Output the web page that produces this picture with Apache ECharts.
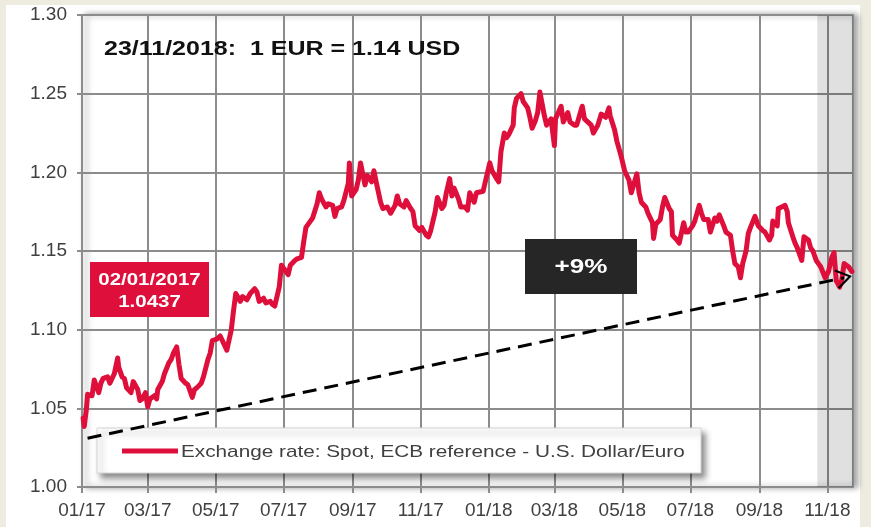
<!DOCTYPE html>
<html><head><meta charset="utf-8">
<script src="https://cdn.jsdelivr.net/npm/echarts@6/dist/echarts.min.js"></script>
<style>
html,body{margin:0;padding:0;background:#eeece1;width:871px;height:527px;overflow:hidden}
#panel{position:absolute;left:6px;top:5px;width:854px;height:522px;background:#fff}
#chart{position:absolute;left:0;top:0;width:871px;height:527px}
</style></head><body><div id="panel"></div><div id="chart"></div>
<script>
// ---- data ----
const dates = [
'2017-01-02','2017-01-03','2017-01-05','2017-01-06','2017-01-10','2017-01-12','2017-01-16','2017-01-18','2017-01-20','2017-01-24','2017-01-26','2017-01-30',
'2017-02-02','2017-02-03','2017-02-06','2017-02-08','2017-02-10','2017-02-14','2017-02-16','2017-02-20','2017-02-22','2017-02-24','2017-02-27',
'2017-03-01','2017-03-03','2017-03-07','2017-03-09','2017-03-10','2017-03-14','2017-03-16','2017-03-20','2017-03-22','2017-03-24','2017-03-27','2017-03-29','2017-03-31',
'2017-04-04','2017-04-06','2017-04-10','2017-04-12','2017-04-14','2017-04-18','2017-04-20','2017-04-24','2017-04-26','2017-04-28',
'2017-05-02','2017-05-05','2017-05-09','2017-05-11','2017-05-15','2017-05-17','2017-05-19','2017-05-23','2017-05-25','2017-05-29',
'2017-06-01','2017-06-05','2017-06-07','2017-06-09','2017-06-13','2017-06-15','2017-06-19','2017-06-21','2017-06-23','2017-06-27','2017-06-29',
'2017-07-03','2017-07-05','2017-07-07','2017-07-11','2017-07-13','2017-07-17','2017-07-19','2017-07-21','2017-07-25','2017-07-27','2017-07-31',
'2017-08-02','2017-08-04','2017-08-08','2017-08-10','2017-08-14','2017-08-16','2017-08-18','2017-08-22','2017-08-24','2017-08-28','2017-08-29','2017-08-31',
'2017-09-04','2017-09-06','2017-09-08','2017-09-12','2017-09-14','2017-09-18','2017-09-20','2017-09-22','2017-09-26','2017-09-28',
'2017-10-02','2017-10-05','2017-10-09','2017-10-11','2017-10-13','2017-10-17','2017-10-19','2017-10-23','2017-10-25','2017-10-27','2017-10-31',
'2017-11-02','2017-11-06','2017-11-08','2017-11-10','2017-11-14','2017-11-16','2017-11-20','2017-11-22','2017-11-24','2017-11-27','2017-11-29',
'2017-12-01','2017-12-05','2017-12-07','2017-12-11','2017-12-13','2017-12-15','2017-12-19','2017-12-21','2017-12-22','2017-12-27','2017-12-29',
'2018-01-02','2018-01-04','2018-01-08','2018-01-10','2018-01-12','2018-01-15','2018-01-17','2018-01-19','2018-01-23','2018-01-24','2018-01-26','2018-01-30',
'2018-02-01','2018-02-05','2018-02-07','2018-02-09','2018-02-12','2018-02-14','2018-02-16','2018-02-20','2018-02-22','2018-02-26',
'2018-03-01','2018-03-02','2018-03-07','2018-03-09','2018-03-13','2018-03-15','2018-03-19','2018-03-21','2018-03-26','2018-03-28',
'2018-04-03','2018-04-05','2018-04-09','2018-04-12','2018-04-16','2018-04-19','2018-04-20','2018-04-24','2018-04-26','2018-04-30',
'2018-05-03','2018-05-07','2018-05-09','2018-05-14','2018-05-16','2018-05-18','2018-05-22','2018-05-24','2018-05-28','2018-05-29','2018-05-31',
'2018-06-04','2018-06-06','2018-06-08','2018-06-12','2018-06-14','2018-06-15','2018-06-19','2018-06-21','2018-06-25','2018-06-27','2018-06-29',
'2018-07-03','2018-07-05','2018-07-09','2018-07-11','2018-07-13','2018-07-17','2018-07-19','2018-07-23','2018-07-25','2018-07-27','2018-07-31',
'2018-08-02','2018-08-06','2018-08-08','2018-08-10','2018-08-13','2018-08-15','2018-08-17','2018-08-20','2018-08-22','2018-08-24','2018-08-28','2018-08-31',
'2018-09-04','2018-09-06','2018-09-10','2018-09-12','2018-09-13','2018-09-17','2018-09-18','2018-09-21','2018-09-24','2018-09-26','2018-09-27',
'2018-10-01','2018-10-03','2018-10-05','2018-10-09','2018-10-11','2018-10-15','2018-10-17','2018-10-19','2018-10-22','2018-10-24','2018-10-26','2018-10-30',
'2018-11-02','2018-11-05','2018-11-07','2018-11-09','2018-11-12','2018-11-14','2018-11-16','2018-11-20','2018-11-23'
];
const rates = [
1.0437,1.0385,1.0500,1.0589,1.0580,1.0680,1.0600,1.0660,1.0690,1.0700,1.0660,1.0720,
1.0820,1.0760,1.0700,1.0690,1.0630,1.0600,1.0670,1.0620,1.0550,1.0560,1.0600,
1.0510,1.0560,1.0580,1.0560,1.0620,1.0670,1.0720,1.0790,1.0810,1.0850,1.0890,1.0780,1.0690,
1.0660,1.0650,1.0570,1.0620,1.0630,1.0660,1.0700,1.0810,1.0850,1.0930,
1.0940,1.0960,1.0900,1.0870,1.1000,1.1120,1.1230,1.1180,1.1210,1.1190,
1.1230,1.1260,1.1240,1.1180,1.1200,1.1170,1.1180,1.1160,1.1150,1.1270,1.1410,
1.1370,1.1350,1.1410,1.1440,1.1450,1.1460,1.1560,1.1650,1.1690,1.1710,1.1800,
1.1870,1.1830,1.1780,1.1800,1.1790,1.1720,1.1770,1.1780,1.1820,1.1930,1.2060,1.1850,
1.1890,1.1950,1.2060,1.1920,1.1980,1.1940,1.2010,1.1940,1.1810,1.1770,
1.1780,1.1740,1.1790,1.1850,1.1800,1.1780,1.1820,1.1770,1.1750,1.1660,1.1630,
1.1650,1.1600,1.1590,1.1630,1.1750,1.1840,1.1770,1.1790,1.1870,1.1960,1.1850,
1.1900,1.1830,1.1780,1.1780,1.1760,1.1870,1.1810,1.1870,1.1870,1.1880,1.1940,
1.2060,1.2010,1.1960,1.1940,1.2130,1.2250,1.2220,1.2240,1.2300,1.2410,1.2470,1.2500,
1.2450,1.2410,1.2350,1.2280,1.2330,1.2380,1.2510,1.2360,1.2300,1.2340,
1.2170,1.2340,1.2420,1.2320,1.2380,1.2320,1.2300,1.2300,1.2420,1.2340,
1.2300,1.2250,1.2300,1.2370,1.2350,1.2410,1.2360,1.2270,1.2200,1.2100,
1.2010,1.1950,1.1870,1.1990,1.1870,1.1810,1.1780,1.1740,1.1680,1.1580,1.1670,
1.1700,1.1780,1.1840,1.1770,1.1750,1.1600,1.1570,1.1550,1.1680,1.1620,1.1620,
1.1660,1.1690,1.1790,1.1740,1.1700,1.1700,1.1620,1.1710,1.1690,1.1730,1.1660,
1.1620,1.1600,1.1500,1.1420,1.1400,1.1330,1.1420,1.1500,1.1610,1.1650,1.1720,1.1660,
1.1630,1.1620,1.1570,1.1600,1.1690,1.1660,1.1770,1.1780,1.1790,1.1750,1.1680,
1.1590,1.1550,1.1520,1.1440,1.1590,1.1570,1.1520,1.1500,1.1440,1.1420,1.1400,1.1330,
1.1370,1.1460,1.1490,1.1310,1.1270,1.1320,1.1420,1.1400,1.1370
];
const tickDates = ['2017-01-01','2017-03-01','2017-05-01','2017-07-01','2017-09-01','2017-11-01',
                   '2018-01-01','2018-03-01','2018-05-01','2018-07-01','2018-09-01','2018-11-01'];
const xMin = '2017-01-01', xMax = '2018-11-24';
const bandStart = '2018-10-23';
const trendStart = ['2017-01-06', 1.031];
const trendEnd = ['2018-11-16', 1.133];
const titleText = '23/11/2018:  1 EUR = 1.14 USD';
const startLabel = ['02/01/2017', '1.0437'];
const changeLabel = '+9%';
const seriesName = 'Exchange rate: Spot, ECB reference - U.S. Dollar/Euro';

// ---- chart ----
const RED = '#de0f3b';
const GRID = '#8c8c8c';
const FONT = '"Liberation Sans", Arial, sans-serif';
const ts = d => { const p = d.split('-').map(Number); return Date.UTC(p[0], p[1] - 1, p[2]); };
const tickTs = tickDates.map(ts);
const pad2 = n => (n < 10 ? '0' : '') + n;
const fmtMonth = v => { const d = new Date(v); return pad2(d.getUTCMonth() + 1) + '/' + String(d.getUTCFullYear()).slice(2); };
const CHEVRON = 'path://M0,16 L10,0 L20,16 L18,17 L10,4 L2,17 Z';

const chart = echarts.init(document.getElementById('chart'), null, {renderer: 'canvas'});
chart.setOption({
  animation: false,
  grid: {left: 82, right: 18, top: 15, bottom: 40, outerBoundsMode: 'none', show: true,
         backgroundColor: '#fff', borderColor: GRID, borderWidth: 2,
         shadowBlur: 6, shadowColor: 'rgba(0,0,0,0.35)', shadowOffsetX: 4, shadowOffsetY: 0},
  xAxis: {
    type: 'value', min: ts(xMin), max: ts(xMax),
    axisLine: {show: true, lineStyle: {color: GRID, width: 2}},
    axisTick: {show: true, length: 6, lineStyle: {color: GRID, width: 2}, customValues: tickTs},
    axisLabel: {customValues: tickTs, formatter: fmtMonth, color: '#404040', fontSize: 19, fontFamily: FONT, margin: 14},
    splitLine: {show: true, lineStyle: {color: GRID, width: 2}}
  },
  yAxis: {
    type: 'value', min: 1.0, max: 1.3, interval: 0.05,
    axisLine: {show: true, lineStyle: {color: GRID, width: 2}},
    axisTick: {show: true, length: 5, lineStyle: {color: GRID, width: 2}},
    axisLabel: {formatter: v => v.toFixed(2), color: '#404040', fontSize: 19, fontFamily: FONT, margin: 15},
    splitLine: {show: true, lineStyle: {color: GRID, width: 2}}
  },
  series: [{
    type: 'line', name: seriesName, z: 3, silent: true,
    data: dates.map((d, i) => [ts(d), rates[i]]),
    symbol: 'none', showSymbol: false,
    lineStyle: {color: RED, width: 5, join: 'round', cap: 'round'}, itemStyle: {color: RED},
    markArea: {silent: true, itemStyle: {color: 'rgba(0,0,0,0.12)'},
               data: [[{xAxis: ts(bandStart)}, {xAxis: ts(xMax)}]]},
    markLine: {silent: true, animation: false, symbol: ['none', CHEVRON], symbolSize: [20, 16],
               label: {show: false}, emphasis: {disabled: true},
               lineStyle: {color: '#000', width: 3, type: [14, 8]},
               data: [[{coord: [ts(trendStart[0]), trendStart[1]], symbol: 'none'},
                       {coord: [ts(trendEnd[0]), trendEnd[1]], symbol: CHEVRON, symbolSize: [20, 16]}]]}
  }],
  graphic: [
    {type: 'rect', z: 1, shape: {x: 97, y: 428, width: 604, height: 45},
     style: {fill: '#fff', stroke: '#d4d4d4', lineWidth: 1, shadowBlur: 6, shadowOffsetX: 4, shadowOffsetY: 5, shadowColor: 'rgba(0,0,0,0.45)'}},
    {type: 'line', z: 1, shape: {x1: 122, y1: 451, x2: 178, y2: 451}, style: {stroke: RED, lineWidth: 5}},
    {type: 'text', z: 1, x: 181, y: 452, scaleX: 1.22,
     style: {text: seriesName, font: '17px ' + FONT, fill: '#404040', textAlign: 'left', textVerticalAlign: 'middle'}},
    {type: 'text', z: 10, x: 104, y: 49, scaleX: 1.19,
     style: {text: titleText, font: 'bold 21px ' + FONT, fill: '#111', textAlign: 'left', textVerticalAlign: 'middle'}},
    {type: 'rect', z: 10, shape: {x: 90, y: 262, width: 119, height: 55}, style: {fill: RED}},
    {type: 'text', z: 11, x: 149.5, y: 281, scaleX: 1.28,
     style: {text: startLabel[0], font: 'bold 16px ' + FONT, fill: '#fff', textAlign: 'center', textVerticalAlign: 'middle'}},
    {type: 'text', z: 11, x: 149.5, y: 303, scaleX: 1.28,
     style: {text: startLabel[1], font: 'bold 16px ' + FONT, fill: '#fff', textAlign: 'center', textVerticalAlign: 'middle'}},
    {type: 'rect', z: 10, shape: {x: 525, y: 239, width: 112, height: 55}, style: {fill: '#262626'}},
    {type: 'text', z: 11, x: 581, y: 267, scaleX: 1.24,
     style: {text: changeLabel, font: 'bold 21px ' + FONT, fill: '#fff', textAlign: 'center', textVerticalAlign: 'middle'}}
  ]
});
</script></body></html>
